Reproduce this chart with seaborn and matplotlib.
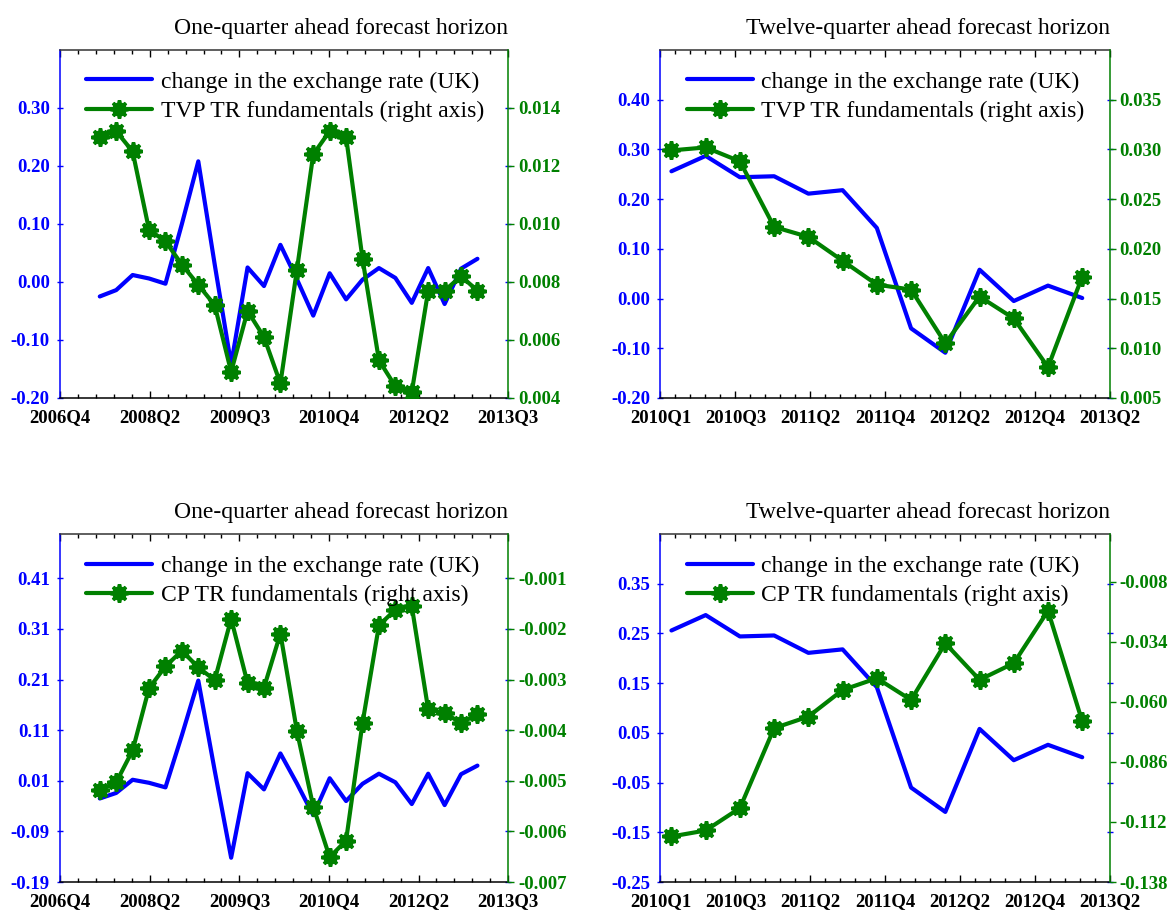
import numpy as np
import seaborn as sns
import matplotlib.pyplot as plt
from matplotlib.legend_handler import HandlerTuple
from matplotlib.ticker import FormatStrFormatter

# change in the exchange rate (UK), 2007Q2 - 2013Q1 (one-quarter panels)
fx_one = [-0.025, -0.014, 0.012, 0.006, -0.003, 0.100, 0.208, 0.030,
          -0.142, 0.025, -0.007, 0.064, 0.005, -0.058, 0.015, -0.030,
          0.004, 0.024, 0.007, -0.036, 0.024, -0.038, 0.023, 0.040]
tvp_one = [0.0130, 0.0132, 0.0125, 0.0098, 0.0094, 0.0086, 0.0079, 0.0072,
           0.0049, 0.0070, 0.0061, 0.0045, 0.0084, 0.0124, 0.0132, 0.0130,
           0.0088, 0.0053, 0.0044, 0.0042, 0.0077, 0.0077, 0.0082, 0.0077]
cp_one = [-0.00519, -0.00503, -0.00440, -0.00317, -0.00274, -0.00243, -0.00276, -0.00301,
          -0.00180, -0.00307, -0.00316, -0.00209, -0.00401, -0.00551, -0.00651, -0.00618,
          -0.00386, -0.00193, -0.00162, -0.00155, -0.00359, -0.00366, -0.00386, -0.00368]

# twelve-quarter panels
fx_twelve = [0.256, 0.287, 0.244, 0.246, 0.211, 0.218, 0.142, -0.060,
             -0.109, 0.058, -0.005, 0.026, 0.001]
tvp_twelve = [0.0299, 0.0302, 0.0288, 0.0222, 0.0212, 0.0188, 0.0164, 0.0159,
              0.0105, 0.0152, 0.0130, 0.0081, 0.0172]
cp_twelve = [-0.1183, -0.1157, -0.1060, -0.0714, -0.0664, -0.0549, -0.0498, -0.0592,
             -0.0347, -0.0505, -0.0433, -0.0206, -0.0685]

labels_one = ['2006Q4', '2008Q2', '2009Q3', '2010Q4', '2012Q2', '2013Q3']
labels_twelve = ['2010Q1', '2010Q3', '2011Q2', '2011Q4', '2012Q2', '2012Q4', '2013Q2']

title_one = 'One-quarter ahead forecast horizon'
title_twelve = 'Twelve-quarter ahead forecast horizon'
fx_name = 'change in the exchange rate (UK)'
tvp_name = 'TVP TR fundamentals (right axis)'
cp_name = 'CP TR fundamentals (right axis)'

BLUE = '#0000ff'
GREEN = '#008000'

sns.set_style('white')
plt.rcParams['font.family'] = ['Liberation Serif', 'DejaVu Serif']
plt.rcParams['font.weight'] = 'bold'
plt.rcParams['text.color'] = 'black'

fig = plt.figure(figsize=(11.69, 9.14), dpi=100)

panels = [
    dict(rect=[0.0515, 0.5646, 0.3832, 0.3807], title=title_one, fx=fx_one,
         model=tvp_one, name=tvp_name, xlim=(-2.41, 24.87), xlabels=labels_one,
         ylim=(-0.2, 0.4), yticks=np.arange(-0.2, 0.31, 0.1), yfmt='%.2f',
         y2lim=(0.004, 0.016), y2ticks=np.arange(0.004, 0.0141, 0.002), y2fmt='%.3f'),
    dict(rect=[0.5650, 0.5646, 0.3845, 0.3807], title=title_twelve, fx=fx_twelve,
         model=tvp_twelve, name=tvp_name, xlim=(-0.32, 12.81), xlabels=labels_twelve,
         ylim=(-0.2, 0.5), yticks=np.arange(-0.2, 0.41, 0.1), yfmt='%.2f',
         y2lim=(0.005, 0.040), y2ticks=np.arange(0.005, 0.0351, 0.005), y2fmt='%.3f'),
    dict(rect=[0.0515, 0.0350, 0.3832, 0.3807], title=title_one, fx=fx_one,
         model=cp_one, name=cp_name, xlim=(-2.41, 24.87), xlabels=labels_one,
         ylim=(-0.19, 0.4975), yticks=np.arange(-0.19, 0.42, 0.1), yfmt='%.2f',
         y2lim=(-0.007, -0.000125), y2ticks=np.arange(-0.007, -0.0009, 0.001), y2fmt='%.3f'),
    dict(rect=[0.5650, 0.0350, 0.3845, 0.3807], title=title_twelve, fx=fx_twelve,
         model=cp_twelve, name=cp_name, xlim=(-0.32, 12.81), xlabels=labels_twelve,
         ylim=(-0.25, 0.45), yticks=np.arange(-0.25, 0.36, 0.1), yfmt='%.2f',
         y2lim=(-0.138, 0.0126), y2ticks=np.arange(-0.138, -0.0079, 0.026), y2fmt='%.3f'),
]

for p in panels:
    ax = fig.add_axes(p['rect'])
    ax2 = ax.twinx()
    x = np.arange(len(p['fx']))

    sns.lineplot(x=x, y=p['fx'], ax=ax, color=BLUE, linewidth=3, errorbar=None)
    sns.lineplot(x=x, y=p['model'], ax=ax2, color=GREEN, linewidth=3, errorbar=None,
                 marker='o', markersize=10.5, markeredgewidth=0, markeredgecolor=GREEN)
    # bumpy rim of the markers
    ax2.plot(x, p['model'], linestyle='none', marker=(8, 2, 0), markersize=13,
             markeredgewidth=2.6, color=GREEN)

    ax.set_xlabel('')
    ax.set_ylabel('')
    ax2.set_ylabel('')
    ax.set_xlim(p['xlim'])
    n = len(p['xlabels'])
    ax.set_xticks(np.linspace(p['xlim'][0], p['xlim'][1], n))
    ax.set_xticklabels(p['xlabels'])
    ax.set_xticks(np.linspace(p['xlim'][0], p['xlim'][1], (n - 1) * 5 + 1), minor=True)
    ax.tick_params(axis='x', which='both', direction='in', top=True, bottom=True,
                   colors='black', labelsize=13.5, pad=8)
    ax.tick_params(axis='x', which='major', length=5, width=1)
    ax.tick_params(axis='x', which='minor', length=3, width=1)

    ax.set_ylim(p['ylim'])
    ax.set_yticks(np.round(p['yticks'], 4))
    ax.yaxis.set_major_formatter(FormatStrFormatter(p['yfmt']))
    ax.tick_params(axis='y', direction='inout', length=5, width=1, colors=BLUE,
                   right=True, labelright=False, labelsize=13.5, pad=5)

    ax2.set_ylim(p['y2lim'])
    ax2.set_yticks(np.round(p['y2ticks'], 5))
    ax2.yaxis.set_major_formatter(FormatStrFormatter(p['y2fmt']))
    ax2.tick_params(axis='y', direction='out', length=4, width=1, colors=GREEN,
                    labelsize=13.5, pad=3)

    ax.spines['left'].set_color(BLUE)
    ax.spines['right'].set_visible(False)
    ax.spines['top'].set_color('#333333')
    ax.spines['bottom'].set_color('black')
    for s in ax.spines.values():
        s.set_linewidth(1.1)
    ax2.spines['left'].set_visible(False)
    ax2.spines['top'].set_visible(False)
    ax2.spines['bottom'].set_visible(False)
    ax2.spines['right'].set_color(GREEN)
    ax2.spines['right'].set_linewidth(1.1)

    ax.set_title(p['title'], loc='right', pad=11.5, fontsize=17, fontweight='normal',
                 color='black')

    handles = [ax.lines[0], (ax2.lines[0], ax2.lines[1])]
    ax2.legend(handles, [fx_name, p['name']], handler_map={tuple: HandlerTuple(ndivide=1)},
               loc='upper left', bbox_to_anchor=(0.058, 0.939), frameon=False,
               borderpad=0, borderaxespad=0, handlelength=2.8, handletextpad=0.35,
               labelspacing=0.33, labelcolor='black', prop=dict(size=17, weight='normal'))

fig.savefig('out.png', dpi=100)
